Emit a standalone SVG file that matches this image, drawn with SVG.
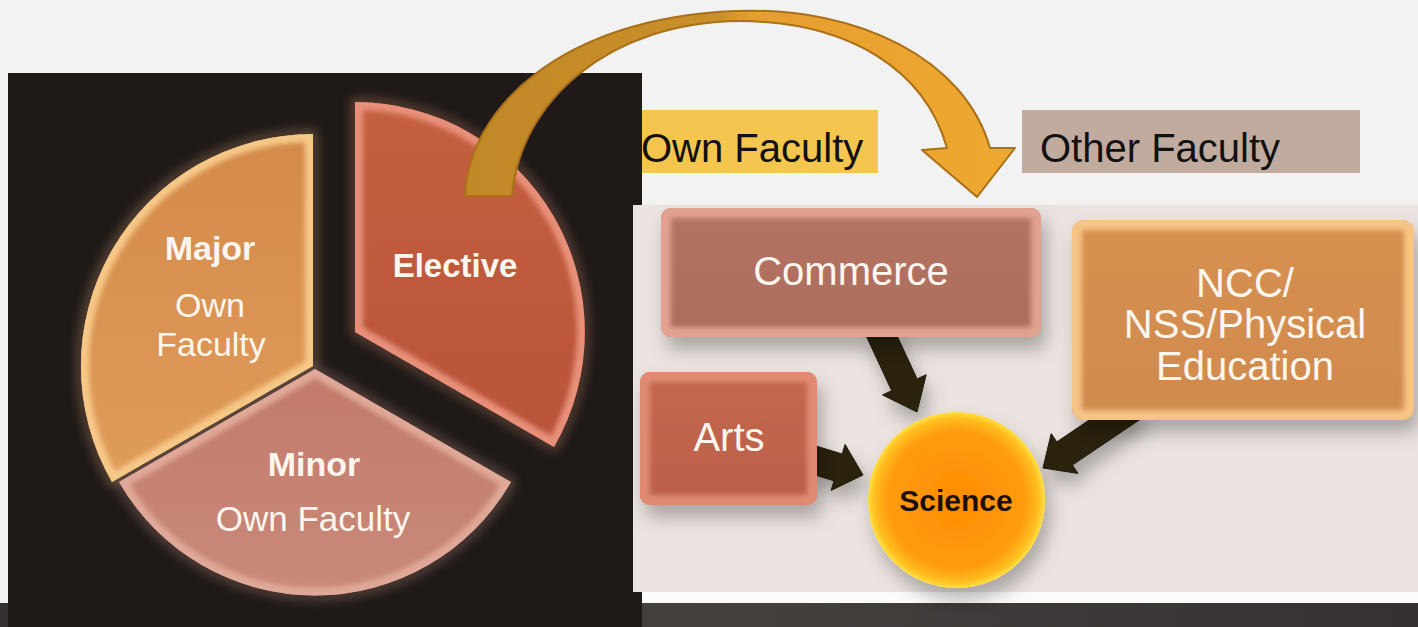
<svg xmlns="http://www.w3.org/2000/svg" width="1418" height="627" viewBox="0 0 1418 627">
<style>
.pt{font-family:"Liberation Sans",Arial,sans-serif;fill:#fdf6ee;text-anchor:middle}
.b{font-weight:bold}
.lbl{font-family:"Liberation Sans",Arial,sans-serif;fill:#111;font-size:40px}
.bx{font-family:"Liberation Sans",Arial,sans-serif;fill:#fdf6ee;text-anchor:middle;font-size:40px}
.blk{fill:#2a2410;stroke:#1e1a0a;stroke-width:1}
</style>
<defs>
<filter id="sh" x="-20%" y="-20%" width="150%" height="160%">
<feDropShadow dx="5" dy="12" stdDeviation="9" flood-color="#000" flood-opacity="0.28"/>
</filter>
<filter id="soft" x="-10%" y="-10%" width="120%" height="120%"><feGaussianBlur stdDeviation="2.5"/></filter>
<filter id="glow" x="-20%" y="-20%" width="140%" height="140%"><feGaussianBlur stdDeviation="6"/></filter>
<linearGradient id="gMaj" x1="0" y1="0" x2="0" y2="1"><stop offset="0" stop-color="#d48a4b"/><stop offset="1" stop-color="#e09c5a"/></linearGradient>
<linearGradient id="gMin" x1="0" y1="0" x2="0" y2="1"><stop offset="0" stop-color="#c27a6a"/><stop offset="1" stop-color="#c98a7b"/></linearGradient>
<linearGradient id="gEle" x1="0" y1="0" x2="0" y2="1"><stop offset="0" stop-color="#c4603f"/><stop offset="1" stop-color="#b9533a"/></linearGradient>
<linearGradient id="gCom" x1="0" y1="0" x2="0" y2="1"><stop offset="0" stop-color="#b47464"/><stop offset="1" stop-color="#ad6c5c"/></linearGradient>
<linearGradient id="gArt" x1="0" y1="0" x2="0" y2="1"><stop offset="0" stop-color="#c46850"/><stop offset="1" stop-color="#bb5f48"/></linearGradient>
<linearGradient id="gNcc" x1="0" y1="0" x2="0" y2="1"><stop offset="0" stop-color="#d69050"/><stop offset="1" stop-color="#d08a4e"/></linearGradient>
<radialGradient id="gSci" cx="0.5" cy="0.5" r="0.5"><stop offset="0" stop-color="#ff8c00"/><stop offset="0.78" stop-color="#ff9c10"/><stop offset="0.93" stop-color="#ffbe20"/><stop offset="1" stop-color="#ffe040"/></radialGradient>
<linearGradient id="gArc" gradientUnits="userSpaceOnUse" x1="465" y1="0" x2="1015" y2="0"><stop offset="0" stop-color="#c18826"/><stop offset="0.46" stop-color="#c98f2a"/><stop offset="0.52" stop-color="#e59e30"/><stop offset="1" stop-color="#efa82f"/></linearGradient>
<linearGradient id="gBar" x1="0" y1="0" x2="1" y2="0"><stop offset="0" stop-color="#353130"/><stop offset="0.5" stop-color="#45413f"/><stop offset="1" stop-color="#353130"/></linearGradient>
<clipPath id="cMaj"><path id="pMaj" d="M313,366 L313,134 A232,232 0 0 0 112,482 Z"/></clipPath>
<clipPath id="cMin"><path id="pMin" d="M315,369 L119,482 A226,226 0 0 0 511,482 Z"/></clipPath>
<clipPath id="cEle"><path id="pEle" d="M355,332 L355,102 A230,230 0 0 1 554,447 Z"/></clipPath>
<clipPath id="cCom"><rect x="661" y="208" width="380" height="129" rx="10"/></clipPath>
<clipPath id="cArt"><rect x="640" y="372" width="177" height="133" rx="10"/></clipPath>
<clipPath id="cNcc"><rect x="1072" y="220" width="342" height="200" rx="12"/></clipPath>
</defs>

<rect x="0" y="0" width="1418" height="627" fill="#f2f2f2"/>
<rect x="0" y="603" width="1418" height="24" fill="url(#gBar)"/>
<rect x="633" y="592" width="785" height="11" fill="#fbfbfb"/>
<rect x="8" y="73" width="634" height="554" fill="#1f1918"/>
<rect x="633" y="205" width="785" height="387" fill="#ebe3e0"/>

<g id="pie-glow" filter="url(#glow)" opacity="0.45">
<use href="#pMaj" fill="none" stroke="#f5c08a" stroke-width="6"/>
<use href="#pMin" fill="none" stroke="#e8b0a0" stroke-width="6"/>
<use href="#pEle" fill="none" stroke="#f0a080" stroke-width="6"/>
</g>

<g id="pie-major">
<use href="#pMaj" fill="url(#gMaj)"/>
<g clip-path="url(#cMaj)"><use href="#pMaj" fill="none" stroke="#f6c888" stroke-width="16" stroke-linejoin="round" filter="url(#soft)"/></g>
<text class="pt b" x="210" y="260" font-size="34">Major</text>
<text class="pt" x="210" y="317" font-size="34">Own</text>
<text class="pt" x="211" y="356" font-size="34">Faculty</text>
</g>
<g id="pie-minor">
<use href="#pMin" fill="url(#gMin)"/>
<g clip-path="url(#cMin)"><use href="#pMin" fill="none" stroke="#e0a898" stroke-width="16" stroke-linejoin="round" filter="url(#soft)"/></g>
<text class="pt b" x="314" y="476" font-size="34">Minor</text>
<text class="pt" x="313" y="531" font-size="35">Own Faculty</text>
</g>
<g id="pie-elective">
<use href="#pEle" fill="url(#gEle)"/>
<g clip-path="url(#cEle)"><use href="#pEle" fill="none" stroke="#e8907a" stroke-width="16" stroke-linejoin="round" filter="url(#soft)"/></g>
<text class="pt b" x="455" y="277" font-size="33">Elective</text>
</g>

<g id="label-own-faculty">
<rect x="642" y="110" width="236" height="63" fill="#f4c64e"/>
<text class="lbl" x="641" y="162" font-size="39">Own Faculty</text>
</g>
<g id="label-other-faculty">
<rect x="1022" y="110" width="338" height="63" fill="#c1ab9f"/>
<text class="lbl" x="1040" y="162">Other Faculty</text>
</g>

<g id="connectors">
<path id="arc-arrow" d="M465,196 C468,110 560,18 735,11 C860,6 965,60 990,148 L1015,148 L977,197 L922,150 L947,148 C925,70 850,22 740,21 C610,22 520,100 512,196 Z" fill="url(#gArc)" stroke="#a87018" stroke-width="2" stroke-linejoin="round"/>
<g filter="url(#sh)">
<polygon class="blk" points="890.7,322.1 917.1,378.9 926.2,374.7 917,412 882.6,394.9 891.7,390.7 865.3,333.9"/>
<polygon class="blk" points="809.7,444.1 842.2,454.0 845.1,444.4 863,475 831.1,490.4 834.0,480.8 801.5,470.9"/>
<polygon class="blk" points="1142.0,418.1 1072.4,465.1 1078.0,473.4 1043,468 1051.2,433.6 1056.8,441.9 1126.4,394.9"/>
</g>
</g>

<g id="node-commerce">
<rect x="661" y="208" width="380" height="129" rx="10" fill="url(#gCom)" filter="url(#sh)"/>
<g clip-path="url(#cCom)"><rect x="661" y="208" width="380" height="129" rx="10" fill="none" stroke="#e2a290" stroke-width="20" filter="url(#soft)"/></g>
<text class="bx" x="851" y="285">Commerce</text>
</g>
<g id="node-arts">
<rect x="640" y="372" width="177" height="133" rx="10" fill="url(#gArt)" filter="url(#sh)"/>
<g clip-path="url(#cArt)"><rect x="640" y="372" width="177" height="133" rx="10" fill="none" stroke="#e08a72" stroke-width="20" filter="url(#soft)"/></g>
<text class="bx" x="729" y="451">Arts</text>
</g>
<g id="node-ncc">
<rect x="1072" y="220" width="342" height="200" rx="12" fill="url(#gNcc)" filter="url(#sh)"/>
<g clip-path="url(#cNcc)"><rect x="1072" y="220" width="342" height="200" rx="12" fill="none" stroke="#f6c486" stroke-width="20" filter="url(#soft)"/></g>
<text class="bx" x="1245" y="297">NCC/</text>
<text class="bx" x="1245" y="338">NSS/Physical</text>
<text class="bx" x="1245" y="380">Education</text>
</g>
<g id="node-science">
<ellipse cx="956.5" cy="500" rx="88.5" ry="88" fill="url(#gSci)" filter="url(#sh)"/>
<text x="956" y="511" font-family="'Liberation Sans',Arial,sans-serif" font-size="30" font-weight="bold" fill="#1a1008" text-anchor="middle">Science</text>
</g>
</svg>
